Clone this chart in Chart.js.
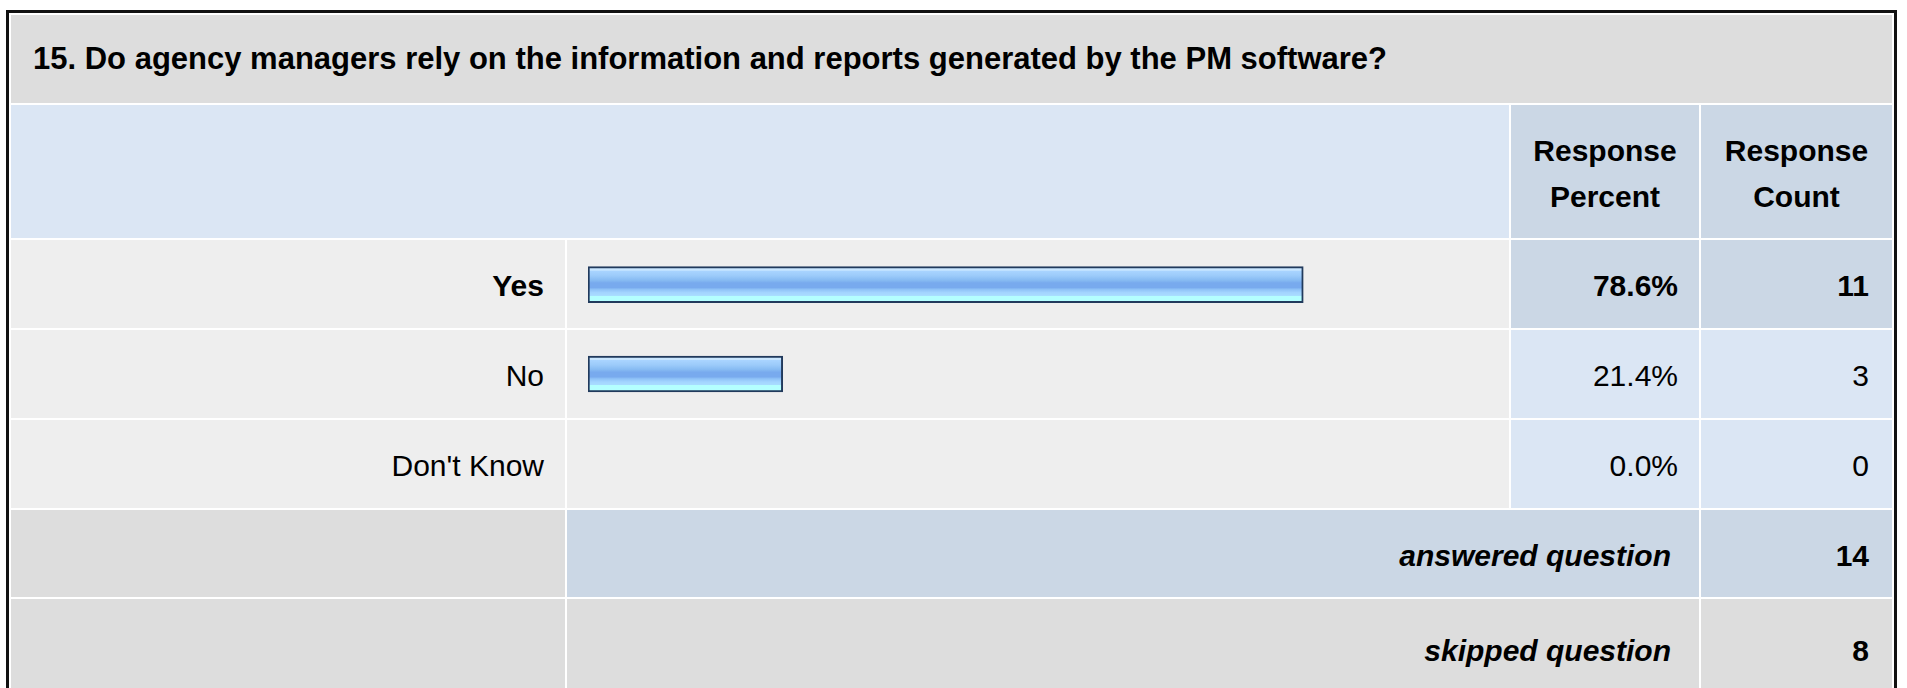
<!DOCTYPE html>
<html>
<head>
<meta charset="utf-8">
<script src="https://cdn.jsdelivr.net/npm/chart.js@4.4.1/dist/chart.umd.min.js"></script>
<style>
  html, body { margin: 0; padding: 0; background: #fff; overflow: hidden; }
  body { width: 1907px; height: 688px; position: relative; font-family: "Liberation Sans", Arial, Helvetica, sans-serif; color: #000; }
  #box {
    position: absolute; left: 6px; top: 10px;
    border: 3px solid #111; border-bottom: none;
    padding: 2px 2px 0 2px; background: #fff;
    display: grid;
    grid-template-columns: 554px 942px 188px 191px;
    grid-template-rows: 88px 133px 88px 88px 88px 87px 100px;
    gap: 2px;
  }
  .c { display: flex; align-items: center; justify-content: flex-end; font-size: 30px; box-sizing: border-box; padding-top: 4px; }
  .title { background: #ddd; justify-content: flex-start; padding-left: 22px; padding-top: 0; font-weight: bold; font-size: 31px; }
  .hd { background: #dbe6f4; }
  .hdc { background: #cbd7e5; justify-content: center; text-align: center; font-weight: bold; line-height: 46px; }
  .lbl { background: #eee; padding-right: 21px; }
  .bar { background: #eee; }
  .num { padding-right: 21px; }
  .cnt { padding-right: 23px; }
  .hi { background: #cbd7e5; }
  .lo { background: #dbe6f4; }
  .gray { background: #ddd; }
  .b { font-weight: bold; }
  .sum { font-weight: bold; font-style: italic; padding-right: 28px; }
  #chartWrap { position: relative; width: 942px; height: 268px; z-index: 2; padding: 0; }
</style>
</head>
<body>
<div id="box"></div>
<script>
// data
const question = "15. Do agency managers rely on the information and reports generated by the PM software?";
const answers = ["Yes", "No", "Don't Know"];
const percents = [78.6, 21.4, 0.0];
const counts = [11, 3, 0];
const answeredCount = 14;
const skippedCount = 8;

const box = document.getElementById('box');

function cell(cls, col, row, html) {
    const d = document.createElement('div');
    d.className = 'c ' + cls;
    d.style.gridColumn = col;
    d.style.gridRow = row;
    d.innerHTML = html;
    box.appendChild(d);
    return d;
}

cell('title', '1 / 5', '1', question);
cell('hd', '1 / 3', '2', '');
cell('hdc', '3', '2', 'Response<br>Percent');
cell('hdc', '4', '2', 'Response<br>Count');

// the biggest answer gets the darker, bold row
const maxIdx = percents.indexOf(Math.max(...percents));
answers.forEach((a, i) => {
    const row = String(i + 3);
    const top = i === maxIdx;
    cell('lbl' + (top ? ' b' : ''), '1', row, a);
    cell('bar', '2', row, '');
    cell('num ' + (top ? 'hi b' : 'lo'), '3', row, percents[i].toFixed(1) + '%');
    cell('cnt ' + (top ? 'hi b' : 'lo'), '4', row, counts[i]);
});

cell('gray', '1', '6', '');
cell('hi sum', '2 / 4', '6', 'answered question');
cell('hi cnt b', '4', '6', answeredCount);
cell('gray', '1', '7', '');
cell('gray sum', '2 / 4', '7', 'skipped question');
cell('gray cnt b', '4', '7', skippedCount);

// chart sits on top of the bar column for the answer rows
const wrap = document.createElement('div');
wrap.id = 'chartWrap';
wrap.style.gridColumn = '2';
wrap.style.gridRow = '3 / 6';
wrap.innerHTML = '<canvas id="barChart"></canvas>';
box.appendChild(wrap);

const BAR_H = 36;

function barFill(ctx) {
    const chart = ctx.chart;
    const yScale = chart.scales.y;
    if (!yScale || ctx.dataIndex === undefined) return '#9ccbfa';
    const cy = yScale.getPixelForValue(ctx.dataIndex);
    if (!isFinite(cy)) return '#9ccbfa';
    const g = chart.ctx.createLinearGradient(0, cy - BAR_H / 2, 0, cy + BAR_H / 2);
    g.addColorStop(0.00, '#c9e6ff');
    g.addColorStop(0.10, '#c9e6ff');
    g.addColorStop(0.12, '#a9d4ff');
    g.addColorStop(0.25, '#9ccbfa');
    g.addColorStop(0.38, '#86baf2');
    g.addColorStop(0.45, '#78aaee');
    g.addColorStop(0.58, '#78aaee');
    g.addColorStop(0.63, '#8ec1f7');
    g.addColorStop(0.72, '#a3d5ff');
    g.addColorStop(0.80, '#a8dcff');
    g.addColorStop(0.82, '#b4ffff');
    g.addColorStop(1.00, '#b4ffff');
    return g;
}

const barChart = new Chart(document.getElementById('barChart').getContext('2d'), {
    type: 'bar',
    data: {
        labels: answers,
        datasets: [{
            data: percents,
            backgroundColor: barFill,
            borderColor: '#213a5c',
            borderWidth: 2,
            borderSkipped: false,
            barThickness: BAR_H
        }]
    },
    options: {
        indexAxis: 'y',
        responsive: true,
        maintainAspectRatio: false,
        animation: false,
        layout: { padding: { left: 21, right: 11, top: 0, bottom: 0 } },
        scales: {
            x: { display: false, min: 0, max: 100 },
            y: { display: false }
        },
        plugins: {
            legend: { display: false },
            tooltip: { enabled: false }
        }
    }
});
barChart.update(); // scales exist now, so the gradients can be placed
</script>
</body>
</html>
